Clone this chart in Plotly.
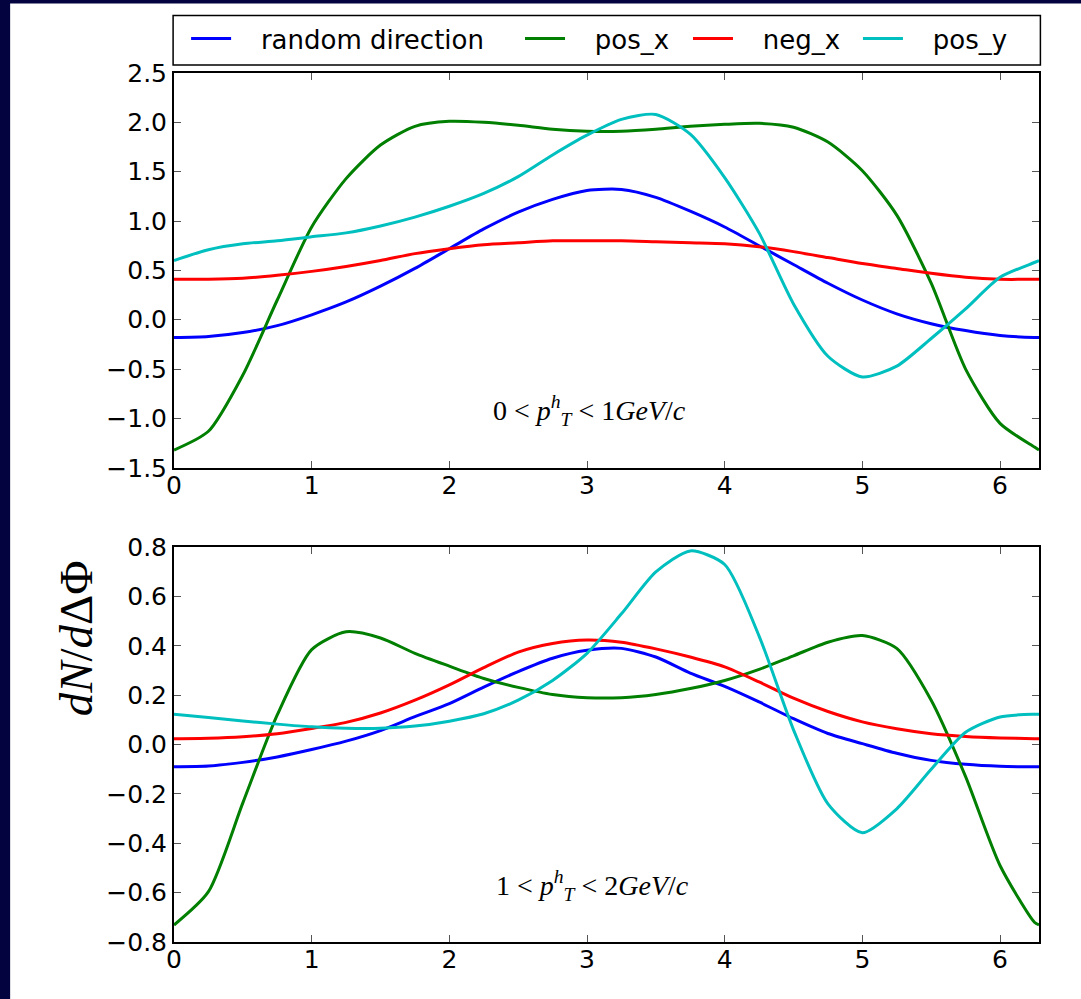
import plotly.graph_objects as go
from plotly.subplots import make_subplots

# ---------------- data ----------------
phi = [0.0, 0.25, 0.5, 0.75, 1.0, 1.25, 1.5, 1.75, 2.0, 2.25, 2.5, 2.75, 3.0,
       3.25, 3.5, 3.75, 4.0, 4.25, 4.5, 4.75, 5.0, 5.25, 5.5, 5.75, 6.0, 6.25,
       6.2832]

series_names = ["random direction", "pos_x", "neg_x", "pos_y"]
series_colors = ["#0000ff", "#007f00", "#ff0000", "#00bfbf"]

# panel 1: 0 < pT < 1 GeV/c
top_random = [-0.18, -0.17, -0.13, -0.06, 0.05, 0.18, 0.34, 0.52, 0.72, 0.92,
              1.09, 1.22, 1.31, 1.32, 1.24, 1.10, 0.94, 0.75, 0.56, 0.37, 0.20,
              0.06, -0.04, -0.11, -0.16, -0.18, -0.18]
top_pos_x = [-1.32, -1.13, -0.56, 0.20, 0.94, 1.43, 1.77, 1.96, 2.01, 2.00,
             1.97, 1.93, 1.91, 1.91, 1.93, 1.96, 1.98, 1.99, 1.95, 1.80, 1.51,
             1.06, 0.37, -0.50, -1.05, -1.29, -1.32]
top_neg_x = [0.41, 0.41, 0.42, 0.45, 0.49, 0.54, 0.60, 0.67, 0.72, 0.76, 0.78,
             0.80, 0.80, 0.80, 0.79, 0.78, 0.77, 0.74, 0.69, 0.63, 0.57, 0.52,
             0.47, 0.43, 0.41, 0.41, 0.41]
top_pos_y = [0.60, 0.71, 0.77, 0.80, 0.84, 0.88, 0.95, 1.04, 1.15, 1.28, 1.45,
             1.67, 1.87, 2.03, 2.08, 1.88, 1.44, 0.88, 0.16, -0.37, -0.58,
             -0.47, -0.19, 0.11, 0.43, 0.58, 0.60]

# panel 2: 1 < pT < 2 GeV/c
bot_random = [-0.09, -0.087, -0.072, -0.05, -0.02, 0.014, 0.057, 0.113, 0.166,
              0.233, 0.296, 0.350, 0.382, 0.390, 0.355, 0.290, 0.236, 0.173,
              0.105, 0.045, 0.004, -0.035, -0.064, -0.080, -0.088, -0.09, -0.09]
bot_pos_x = [-0.731, -0.596, -0.236, 0.12, 0.385, 0.457, 0.432, 0.370, 0.318,
             0.268, 0.232, 0.203, 0.190, 0.190, 0.203, 0.227, 0.260, 0.305,
             0.360, 0.415, 0.442, 0.390, 0.180, -0.13, -0.49, -0.72, -0.731]
bot_neg_x = [0.024, 0.026, 0.032, 0.044, 0.065, 0.090, 0.128, 0.180, 0.242,
             0.312, 0.375, 0.410, 0.424, 0.415, 0.388, 0.355, 0.315, 0.254,
             0.188, 0.134, 0.092, 0.064, 0.044, 0.033, 0.027, 0.024, 0.024]
bot_pos_y = [0.123, 0.110, 0.096, 0.083, 0.072, 0.066, 0.066, 0.075, 0.095,
             0.125, 0.180, 0.260, 0.370, 0.530, 0.700, 0.785, 0.730, 0.440,
             0.060, -0.240, -0.357, -0.260, -0.100, 0.050, 0.112, 0.123, 0.123]

top_series = [top_random, top_pos_x, top_neg_x, top_pos_y]
bot_series = [bot_random, bot_pos_x, bot_neg_x, bot_pos_y]

x_ticks = [0, 1, 2, 3, 4, 5, 6]
top_yticks = [-1.5, -1.0, -0.5, 0.0, 0.5, 1.0, 1.5, 2.0, 2.5]
bot_yticks = [-0.8, -0.6, -0.4, -0.2, 0.0, 0.2, 0.4, 0.6, 0.8]


def fmt(v, nd):
    s = f"{abs(v):.{nd}f}"
    return ("\u2212" + s) if v < 0 else s


# ---------------- figure ----------------
W, H = 1081, 999
ML, MR, MT, MB = 173.9, 41.9, 72.5, 57.1
PW = W - ML - MR
PH = H - MT - MB

fig = make_subplots(rows=2, cols=1, vertical_spacing=0.0913)

legend_ids = ["legend", "legend2", "legend3", "legend4"]
pad = "\u00a0\u00a0\u00a0"
for i, name in enumerate(series_names):
    fig.add_trace(go.Scatter(x=phi, y=top_series[i], mode="lines",
                             name=pad + name,
                             line=dict(color=series_colors[i], width=3,
                                       shape="spline", smoothing=0.7),
                             legend=legend_ids[i], showlegend=True),
                  row=1, col=1)
for i, name in enumerate(series_names):
    fig.add_trace(go.Scatter(x=phi, y=bot_series[i], mode="lines", name=name,
                             line=dict(color=series_colors[i], width=3,
                                       shape="spline", smoothing=0.7),
                             showlegend=False),
                  row=2, col=1)

fig.update_layout(yaxis=dict(domain=[0.5457, 1.0]),
                  yaxis2=dict(domain=[0.0, 0.4543]))

tick_font = dict(family="DejaVu Sans", size=25, color="black")
axis_common = dict(showline=True, linecolor="black", linewidth=2,
                   mirror="ticks", ticks="inside", ticklen=7, tickwidth=1,
                   tickcolor="#555555", showgrid=False, zeroline=False,
                   tickfont=tick_font)

for ax in ["xaxis", "xaxis2"]:
    fig.layout[ax].update(range=[0, 6.2832], tickvals=x_ticks,
                          ticktext=[str(t) for t in x_ticks],
                          ticklabelstandoff=-6, **axis_common)
fig.layout.yaxis.update(range=[-1.5, 2.5], tickvals=top_yticks,
                        ticktext=[fmt(v, 1) for v in top_yticks],
                        ticklabelstandoff=0, **axis_common)
fig.layout.yaxis2.update(range=[-0.8, 0.8], tickvals=bot_yticks,
                         ticktext=[fmt(v, 1) for v in bot_yticks],
                         ticklabelstandoff=0, **axis_common)


def px2paper_x(px):
    return (px - ML) / PW


def px2paper_y(py):
    return (H - MB - py) / PH


# legends: one per entry so spacing matches the reference
legend_left_px = [186, 520, 688, 858]
leg_font = dict(family="DejaVu Sans", size=26, color="black")
for lid, lx in zip(legend_ids, legend_left_px):
    fig.layout[lid] = dict(x=px2paper_x(lx), xanchor="left",
                           y=px2paper_y(38), yanchor="middle",
                           orientation="h", bgcolor="rgba(0,0,0,0)",
                           borderwidth=0, font=leg_font, itemwidth=40)

shapes = [
    # white page area inside the dark frame
    dict(type="rect", xref="paper", yref="paper", layer="below",
         x0=px2paper_x(10), x1=px2paper_x(W + 5),
         y0=px2paper_y(H + 5), y1=px2paper_y(3),
         fillcolor="white", line=dict(width=0)),
    # legend frame
    dict(type="rect", xref="paper", yref="paper",
         x0=px2paper_x(173), x1=px2paper_x(1040.5),
         y0=px2paper_y(64.5), y1=px2paper_y(15),
         line=dict(color="black", width=1.5), fillcolor="rgba(0,0,0,0)"),
]

serif = "Liberation Serif, DejaVu Serif, serif"
annotations = [
    dict(x=3.02, y=-0.92, xref="x", yref="y", showarrow=False,
         text="0 < <i>p</i><sup><i>h</i></sup><sub><i>T</i></sub> < 1<i>GeV</i>/<i>c</i>",
         font=dict(family=serif, size=28, color="black")),
    dict(x=3.04, y=-0.57, xref="x2", yref="y2", showarrow=False,
         text="1 < <i>p</i><sup><i>h</i></sup><sub><i>T</i></sub> < 2<i>GeV</i>/<i>c</i>",
         font=dict(family=serif, size=28, color="black")),
    dict(x=px2paper_x(48), y=px2paper_y(638), xref="paper", yref="paper",
         showarrow=False, textangle=-90,
         text="<i>dN</i>/<i>d</i>\u0394\u03a6",
         font=dict(family=serif, size=47, color="black")),
]

fig.update_layout(width=W, height=H, paper_bgcolor="#03033f",
                  plot_bgcolor="white",
                  margin=dict(l=ML, r=MR, t=MT, b=MB),
                  shapes=shapes, annotations=annotations,
                  font=dict(family="DejaVu Sans", color="black"))

fig.write_html("out.html",
               config={"displayModeBar": False},
               post_script="document.body.style.margin='0px';")
